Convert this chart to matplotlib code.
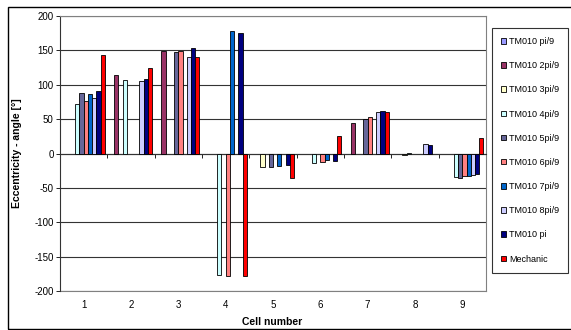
import numpy as np
from matplotlib import pyplot as plt
from matplotlib.patches import Rectangle

# Data
categories = [1, 2, 3, 4, 5, 6, 7, 8, 9]
series_names = ["TM010 pi/9", "TM010 2pi/9", "TM010 3pi/9", "TM010 4pi/9", "TM010 5pi/9",
                "TM010 6pi/9", "TM010 7pi/9", "TM010 8pi/9", "TM010 pi", "Mechanic"]
nan = np.nan
pi_9 = [nan, nan, nan, nan, nan, nan, nan, nan, nan]
pi2_9 = [nan, 114, 149, nan, nan, nan, 44, nan, nan]
pi3_9 = [nan, nan, nan, nan, -19, nan, nan, -2, nan]
pi4_9 = [72, 107, nan, -177, nan, -14, nan, 1, -34]
pi5_9 = [88, nan, 147, nan, -19, nan, 50, nan, -36]
pi6_9 = [77, nan, 149, -178, nan, -12, 53, nan, -32]
pi7_9 = [87, nan, nan, 178, -18, -9, nan, nan, -32]
pi8_9 = [81, 105, 140, nan, nan, nan, 61, 14, -31]
pi_1 = [91, 109, 154, 175, -16, -11, 62, 12, -30]
mechanic = [143, 124, 141, -178, -35, 25, 60, nan, 22]
series_values = [pi_9, pi2_9, pi3_9, pi4_9, pi5_9, pi6_9, pi7_9, pi8_9, pi_1, mechanic]
colors = ["#9999FF", "#993366", "#FFFFCC", "#CCFFFF", "#666699",
          "#FF8080", "#0066CC", "#CCCCFF", "#000080", "#FF0000"]

plt.rcParams["font.family"] = ["Liberation Sans", "DejaVu Sans"]
plt.rcParams["axes.unicode_minus"] = False

W, H = 571, 330
fig = plt.figure(figsize=(W / 100, H / 100), dpi=100)
ax = fig.add_axes([60 / W, 1 - 291 / H, (486 - 60) / W, (291 - 16) / H])

# Outer chart border
fig.patches.append(Rectangle((8 / W, 1 - 329 / H), 1.0, 322 / H, transform=fig.transFigure,
                             fill=False, edgecolor="black", linewidth=1.0))

x = np.arange(len(categories))
n = len(series_values)
group = 0.89
bw = group / n
for i, (vals, name, c) in enumerate(zip(series_values, series_names, colors)):
    offs = -group / 2 + bw * (i + 0.5)
    ax.bar(x + offs, np.array(vals, dtype=float), width=bw, color=c, edgecolor="black",
           linewidth=0.6, label=name, zorder=3)

ax.set_xlim(-0.5, len(categories) - 0.5)
ax.set_ylim(-200, 200)
ax.set_yticks(np.arange(-200, 201, 50))
ax.yaxis.grid(True, color="#333333", linewidth=0.8, zorder=0)
ax.tick_params(axis="y", labelsize=7, length=3, width=0.6, pad=1.5)

# category axis crosses at zero, ticks between categories
ax.spines["bottom"].set_position(("data", 0))
ax.set_xticks(np.arange(len(categories) + 1) - 0.5)
ax.set_xticklabels([])
ax.tick_params(axis="x", length=3, width=0.6, direction="out")
for xi, cat in zip(x, categories):
    ax.text(xi, -0.05, str(cat), transform=ax.get_xaxis_transform(), ha="center", va="center",
            fontsize=7)

for side in ["top", "right"]:
    ax.spines[side].set_color("#808080")
ax.spines["left"].set_color("#333333")
ax.spines["bottom"].set_color("#333333")
for sp in ax.spines.values():
    sp.set_linewidth(0.8)

# bottom frame of the plot area
ax.plot([0, 1], [0, 0], transform=ax.transAxes, color="#808080", linewidth=0.8, clip_on=False)

fig.text(272 / W, 1 - 322 / H, "Cell number", ha="center", va="center", fontsize=7.5,
         fontweight="bold")
fig.text(17 / W, 1 - 153 / H, "Eccentricity - angle [°]", ha="center", va="center",
         rotation=90, fontsize=7.5, fontweight="bold")

leg = fig.legend(loc="upper left", bbox_to_anchor=(492 / W, 1 - 28 / H), borderaxespad=0,
                 fontsize=6.5, frameon=True, fancybox=False, handlelength=0.55, handleheight=0.55,
                 handletextpad=0.35, labelspacing=1.68, borderpad=1.0)
leg.get_frame().set_edgecolor("black")
leg.get_frame().set_linewidth(0.8)

fig.savefig("out.png", dpi=100)
